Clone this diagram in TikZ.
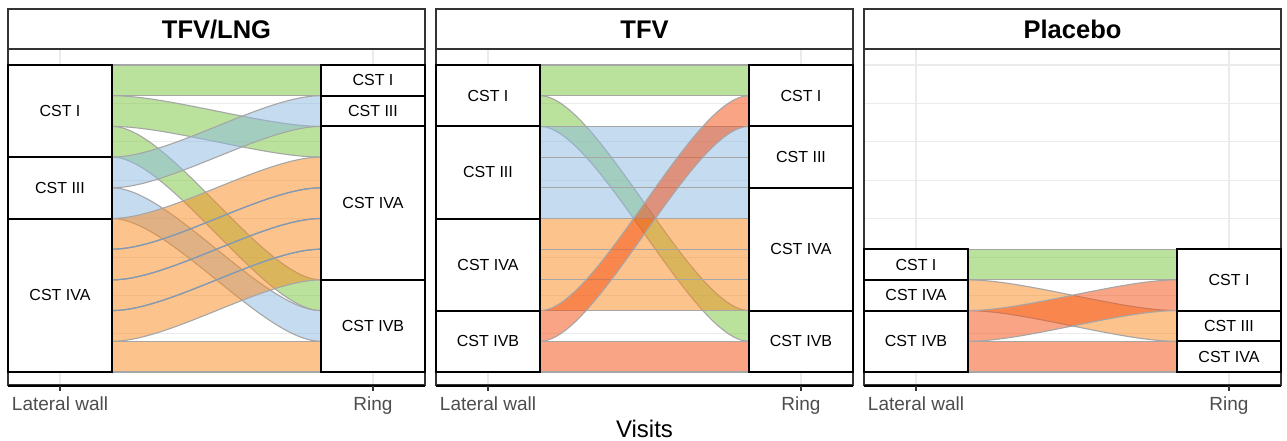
\documentclass[tikz,border=0pt]{standalone}
\usepackage{fontspec}
\setmainfont{Liberation Sans}
\definecolor{cI}{HTML}{79C73B}
\definecolor{cIII}{HTML}{8DB9E1}
\definecolor{cIVA}{HTML}{FB891B}
\definecolor{cIVB}{HTML}{F74B0F}
\definecolor{flowgray}{HTML}{A6A6A6}
\definecolor{bluegray}{HTML}{7E9AB6}
\definecolor{gridc}{HTML}{EBEBEB}
\definecolor{gtwenty}{HTML}{333333}
\definecolor{gthirty}{HTML}{4D4D4D}
\tikzset{
  flowedge/.style={draw=flowgray, line width=1.1pt, fill opacity=0.5},
  stratumbox/.style={draw=black, fill=white, line width=2pt, minimum width=104pt, inner sep=0pt,
    font=\fontsize{16}{19}\selectfont},
  gridmajor/.style={draw=gridc, line width=1.1pt},
  gridminor/.style={draw=gridc, line width=0.55pt},
  paneledge/.style={draw=gtwenty, line width=1.3pt},
  axlab/.style={text=gthirty, font=\fontsize{19}{22}\selectfont, anchor=base, inner sep=0pt},
  striptitle/.style={font=\bfseries\fontsize{25.5}{28}\selectfont, anchor=base, inner sep=0pt},
}
\def\knotlen{57}
\newcommand\flowband[4]{%
  \pgfmathsetmacro\xa{#1+104}%
  \pgfmathsetmacro\xb{#1+313}%
  \pgfmathsetmacro\ca{#1+104+\knotlen}%
  \pgfmathsetmacro\cb{#1+313-\knotlen}%
  \pgfmathsetmacro\ya{65+#2*30.7}%
  \pgfmathsetmacro\yb{65+#3*30.7}%
  \pgfmathsetmacro\yc{\ya+30.7}%
  \pgfmathsetmacro\yd{\yb+30.7}%
  \path[flowedge, fill=#4] (\xa,\ya) .. controls (\ca,\ya) and (\cb,\yb) .. (\xb,\yb)
     -- (\xb,\yd) .. controls (\cb,\yd) and (\ca,\yc) .. (\xa,\yc) -- cycle;}
\newcommand\flowline[4]{%
  \pgfmathsetmacro\xa{#1+104}%
  \pgfmathsetmacro\xb{#1+313}%
  \pgfmathsetmacro\ca{#1+104+\knotlen}%
  \pgfmathsetmacro\cb{#1+313-\knotlen}%
  \pgfmathsetmacro\ya{65+#2*30.7}%
  \pgfmathsetmacro\yb{65+#3*30.7}%
  \draw[draw=#4, line width=1.1pt] (\xa,\ya) .. controls (\ca,\ya) and (\cb,\yb) .. (\xb,\yb);}
\newcommand\mystratum[5]{%
  \pgfmathsetmacro\sx{#2+52}%
  \pgfmathsetmacro\sy{65+(#3+#4)/2*30.7}%
  \pgfmathsetmacro\sh{(#4-#3)*30.7}%
  \node[stratumbox, minimum height=\sh pt] (#1) at (\sx,\sy) {#5};}
\begin{document}
\begin{tikzpicture}[x=1pt, y=-1pt]
\useasboundingbox[fill=white] (0,0) rectangle (1287,441);
% ---------- panel grids
\foreach \xo in {8,436,864}{
  \foreach \k in {1,3,5,7}{
    \draw[gridminor] (\xo,65+\k*38.375) -- (\xo+417,65+\k*38.375);
  }
  \foreach \k in {0,2,4,6,8}{
    \draw[gridmajor] (\xo,65+\k*38.375) -- (\xo+417,65+\k*38.375);
  }
  \draw[gridmajor] (\xo+52,49) -- (\xo+52,385);
  \draw[gridmajor] (\xo+365,49) -- (\xo+365,385);
}
% ---------- panel 1 flows : TFV/LNG
\flowband{8}{0}{0}{cI}
\flowband{8}{1}{2}{cI}
\flowband{8}{2}{7}{cI}
\flowband{8}{3}{1}{cIII}
\flowband{8}{4}{8}{cIII}
\flowband{8}{5}{3}{cIVA}
\flowband{8}{6}{4}{cIVA}
\flowband{8}{7}{5}{cIVA}
\flowband{8}{8}{6}{cIVA}
\flowband{8}{9}{9}{cIVA}
\flowline{8}{6}{4}{bluegray}
\flowline{8}{7}{5}{bluegray}
\flowline{8}{8}{6}{bluegray}
% ---------- panel 2 flows : TFV
\flowband{436}{0}{0}{cI}
\flowband{436}{1}{8}{cI}
\flowband{436}{2}{2}{cIII}
\flowband{436}{3}{3}{cIII}
\flowband{436}{4}{4}{cIII}
\flowband{436}{5}{5}{cIVA}
\flowband{436}{6}{6}{cIVA}
\flowband{436}{7}{7}{cIVA}
\flowband{436}{8}{1}{cIVB}
\flowband{436}{9}{9}{cIVB}
% ---------- panel 3 flows : Placebo
\flowband{864}{6}{6}{cI}
\flowband{864}{7}{8}{cIVA}
\flowband{864}{8}{7}{cIVB}
\flowband{864}{9}{9}{cIVB}
% ---------- panel borders, axes, strips
\foreach \xo/\nm in {8/a, 436/b, 864/c}{
  \draw[paneledge] (\xo,49) rectangle (\xo+417,385);
  \draw[line width=2pt, black] (\xo,385.5) -- (\xo+417,385.5);
  \draw[draw=gtwenty, line width=1.1pt] (\xo+52,386) -- (\xo+52,391);
  \draw[draw=gtwenty, line width=1.1pt] (\xo+365,386) -- (\xo+365,391);
  \node[axlab] (lw\nm) at (\xo+52,410) {Lateral wall};
  \node[axlab] (ring\nm) at (\xo+365,410) {Ring};
  \draw[paneledge, fill=white] (\xo,9) rectangle (\xo+417,49);
}
\node[striptitle] (ta) at (216.5,38.3) {TFV/LNG};
\node[striptitle] (tb) at (644.5,38.3) {TFV};
\node[striptitle] (tc) at (1072.5,38.3) {Placebo};
% ---------- strata panel 1
\mystratum{aLI}{8}{0}{3}{CST I}
\mystratum{aLIII}{8}{3}{5}{CST III}
\mystratum{aLIVA}{8}{5}{10}{CST IVA}
\mystratum{aRI}{321}{0}{1}{CST I}
\mystratum{aRIII}{321}{1}{2}{CST III}
\mystratum{aRIVA}{321}{2}{7}{CST IVA}
\mystratum{aRIVB}{321}{7}{10}{CST IVB}
% ---------- strata panel 2
\mystratum{bLI}{436}{0}{2}{CST I}
\mystratum{bLIII}{436}{2}{5}{CST III}
\mystratum{bLIVA}{436}{5}{8}{CST IVA}
\mystratum{bLIVB}{436}{8}{10}{CST IVB}
\mystratum{bRI}{749}{0}{2}{CST I}
\mystratum{bRIII}{749}{2}{4}{CST III}
\mystratum{bRIVA}{749}{4}{8}{CST IVA}
\mystratum{bRIVB}{749}{8}{10}{CST IVB}
% ---------- strata panel 3
\mystratum{cLI}{864}{6}{7}{CST I}
\mystratum{cLIVA}{864}{7}{8}{CST IVA}
\mystratum{cLIVB}{864}{8}{10}{CST IVB}
\mystratum{cRI}{1177}{6}{8}{CST I}
\mystratum{cRIII}{1177}{8}{9}{CST III}
\mystratum{cRIVA}{1177}{9}{10}{CST IVA}
% ---------- shared axis title
\node[font=\fontsize{24}{28}\selectfont, anchor=base, inner sep=0pt] (visits) at (644.5,437) {Visits};
\end{tikzpicture}
\end{document}
